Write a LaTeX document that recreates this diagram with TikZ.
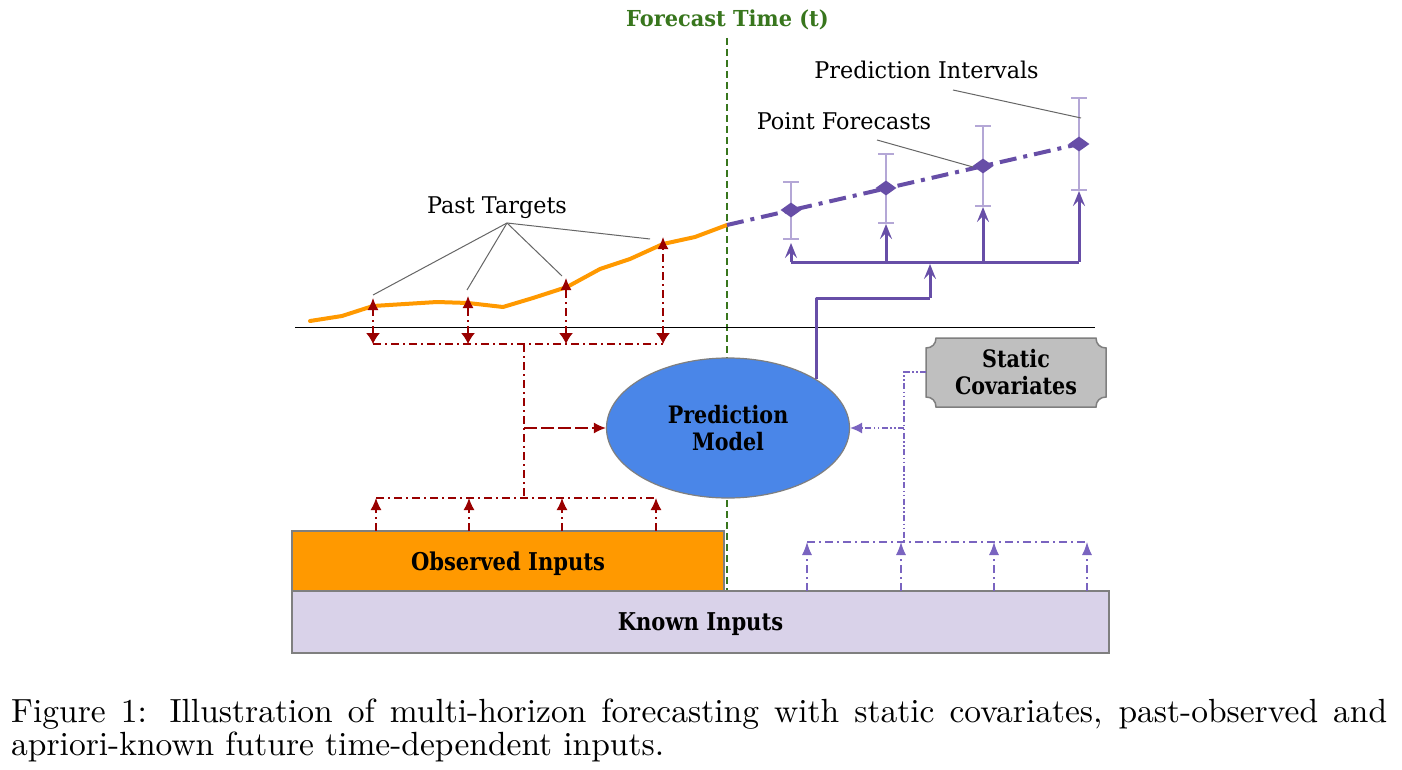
\documentclass[tikz,border=0pt]{standalone}
\usepackage{fontspec}
\usetikzlibrary{shapes.geometric,arrows.meta,calc}
\newfontfamily\labfont{DejaVu Serif}[FakeStretch=0.97]
\newfontfamily\boldfont{DejaVu Serif}[FakeStretch=0.86]
\newfontfamily\titlefont{DejaVu Serif}[FakeStretch=0.95]
\newfontfamily\capfont{lmroman10-regular}[Extension=.otf]
\definecolor{dred}{HTML}{990000}
\definecolor{porange}{HTML}{FF9900}
\definecolor{ppurple}{HTML}{674EA7}
\definecolor{lpurple}{HTML}{B4A7D6}
\definecolor{mpurple}{HTML}{7A64C0}
\definecolor{kfill}{HTML}{D9D2E9}
\definecolor{pblue}{HTML}{4A86E8}
\definecolor{sgray}{HTML}{BFBFBF}
\definecolor{bgray}{HTML}{7F7F7F}
\definecolor{fgreen}{HTML}{38761D}
\definecolor{lgray}{HTML}{666666}
\begin{document}
\begin{tikzpicture}[x=1pt,y=-1pt,
  redl/.style={draw=dred, line width=1.4pt, dash pattern=on 8pt off 4pt on 2pt off 4pt},
  redarr/.style={redl, -{Latex[length=12pt,width=11pt]}},
  redboth/.style={redl, {Latex[length=11pt,width=14pt]}-{Latex[length=12pt,width=11pt]}},
  purl/.style={draw=mpurple, line width=1.3pt, dash pattern=on 8pt off 4pt on 2pt off 4pt},
  purarr/.style={purl, -{Latex[length=13pt,width=10pt]}},
  statl/.style={draw=mpurple, line width=1.3pt, dash pattern=on 6pt off 2.5pt on 1.5pt off 2.5pt on 1.5pt off 2.5pt},
  solidp/.style={draw=ppurple, line width=3pt},
  solidarr/.style={solidp, -{Stealth[length=15pt,width=12pt,inset=6pt]}},
  leader/.style={draw=lgray, line width=1pt},
  interval/.style={draw=lpurple, line width=1.3pt},
  diam/.style={diamond, fill=ppurple, inner sep=0pt, minimum width=21pt, minimum height=15pt},
  lab/.style={font=\labfont\fontsize{23}{27}\selectfont, inner sep=0pt},
  blab/.style={font=\boldfont\bfseries\fontsize{24}{27}\selectfont, inner sep=0pt, align=center},
  inbox/.style={rectangle, draw=bgray, line width=1.5pt, inner sep=0pt, outer sep=0pt, text depth=0pt,
     font=\boldfont\bfseries\fontsize{24.5}{27}\selectfont}
]
\useasboundingbox[fill=white] (0,0) rectangle (1402,770);

% title and forecast time line
\node[font=\titlefont\bfseries\fontsize{22}{25}\selectfont, text=fgreen, anchor=base, inner sep=0pt] (ft) at (727.5,27) {Forecast Time (t)};
\coordinate (gtop) at (727,38);
\coordinate (gbot) at (727,591);
\draw[draw=fgreen, line width=1.2pt, dash pattern=on 7pt off 4pt] (gtop) -- (gbot);

% baseline
\coordinate (bl1) at (295,327);
\coordinate (bl2) at (1095,327);
\draw[black, line width=0.8pt] (bl1) -- (bl2);

% boxes
\node[inbox, fill=kfill, minimum width=817pt, minimum height=62pt] (known) at (700.5,622) {Known Inputs};
\node[inbox, fill=porange, minimum width=432pt, minimum height=60pt] (obs) at (508,561) {Observed Inputs};

% orange past series
\draw[porange, line width=4pt, line join=round, line cap=round]
  (310,321) -- (342,316) -- (373,306) -- (405,304) -- (437,302) -- (468,303) -- (503,307)
  -- (533,298) -- (567,287) -- (600,269) -- (630,259) -- (663,244) -- (695,237) -- (727,225) coordinate (now);

% past target points
\coordinate (p1) at (373,298);
\coordinate (p2) at (468,296);
\coordinate (p3) at (566,278);
\coordinate (p4) at (663,237);
\coordinate (r1) at (373,344);
\coordinate (r2) at (468,344);
\coordinate (r3) at (566,344);
\coordinate (r4) at (663,344);
\foreach \i in {1,2,3,4} \draw[redboth] (r\i) -- (p\i);
\draw[redl] (r1) -- (r4);

% ellipse
\node[ellipse, draw=bgray, line width=1.2pt, fill=pblue, minimum width=243pt, minimum height=140pt,
  inner sep=0pt, blab] (ell) at (728,428) {Prediction\\Model};

% red trunk
\coordinate (rt) at (524,344);
\coordinate (rm) at (524,428);
\coordinate (rb) at (524,498);
\draw[redl] (rt) -- (rb);
\draw[draw=dred, line width=1.6pt, dash pattern=on 13pt off 4pt, -{Latex[length=12pt,width=11pt]}] (rm) -- (ell.west);

% observed input arrows
\coordinate (o1) at (376,498);
\coordinate (o2) at (469,498);
\coordinate (o3) at (562,498);
\coordinate (o4) at (656,498);
\draw[redl] (o1) -- (o4);
\foreach \i in {1,2,3,4} \draw[redarr] (obs.north -| o\i) -- (o\i);

% static covariates
\draw[draw=bgray, line width=1.5pt, fill=sgray]
  (936,338) -- (1096,338)
  .. controls (1096,344) and (1100,348) .. (1106,348)
  -- (1106,397)
  .. controls (1100,397) and (1096,401) .. (1096,407)
  -- (936,407)
  .. controls (936,401) and (932,397) .. (926,397)
  -- (926,348)
  .. controls (932,348) and (936,344) .. (936,338) -- cycle;
\node[blab] (sc) at (1016,372) {Static\\Covariates};
\coordinate (scw) at (926,372);
\coordinate (sv1) at (904,372);
\coordinate (sv2) at (904,428);
\coordinate (sv3) at (904,542);
\draw[statl] (scw) -- (sv1) -- (sv3);
\draw[statl, -{Latex[length=12pt,width=11pt]}] (sv2) -- (ell.east);

% known input arrows
\coordinate (k1) at (807,542);
\coordinate (k2) at (901,542);
\coordinate (k3) at (994,542);
\coordinate (k4) at (1087,542);
\draw[purl] (k1) -- (k4);
\foreach \i in {1,2,3,4} \draw[purarr] (known.north -| k\i) -- (k\i);

% model output
\coordinate (out1) at (930,298);
\coordinate (out2) at (930,264);
\draw[solidp, line join=round] (ell.29.7) |- (out1);
\draw[solidarr] (out1) -- (out2);
\coordinate (h1) at (791,262);
\coordinate (h4) at (1079,262);
\draw[solidp, line join=round] (h1) -- (h4);

% intervals and forecasts
\foreach \x/\t/\b/\m/\a [count=\i] in {791/182/239/210/243, 886/154/223/188/224, 983/126/206/166/207, 1079/98/190/144/191}{
  \draw[interval] (\x,\t) -- (\x,\b);
  \draw[interval] (\x-8,\t) -- (\x+8,\t);
  \draw[interval] (\x-8,\b) -- (\x+8,\b);
  \coordinate (f\i) at (\x,\m);
  \draw[solidarr] (\x,262) -- (\x,\a);
}
\draw[ppurple, line width=4pt, dash pattern=on 17pt off 7pt on 4pt off 7pt] (now) -- (f4);
\foreach \i in {1,2,3,4} \node[diam] (d\i) at (f\i) {};

% labels and leaders
\node[lab, anchor=base] (pt) at (497,213) {Past Targets};
\coordinate (ptl) at (507,223);
\coordinate (pl1) at (373,295);
\coordinate (pl2) at (467,290);
\coordinate (pl3) at (562,276);
\coordinate (pl4) at (650,239);
\foreach \i in {1,2,3,4} \draw[leader] (ptl) -- (pl\i);

\node[lab, anchor=base] (pf) at (844,130) {Point Forecasts};
\coordinate (pfa) at (877,140);
\coordinate (pfb) at (973,167);
\draw[leader] (pfa) -- (pfb);

\node[lab, anchor=base] (pi) at (926.5,79) {Prediction Intervals};
\coordinate (pia) at (953,90);
\coordinate (pib) at (1081,118);
\draw[leader] (pia) -- (pib);

% caption
\node[anchor=base west, inner sep=0pt, font=\capfont\fontsize{33.5}{35}\selectfont] (cap1) at (11,722)
  {\hbox to 1376pt{Figure 1: Illustration of multi-horizon forecasting with static covariates, past-observed and}};
\node[anchor=base west, inner sep=0pt, font=\capfont\fontsize{33.5}{35}\selectfont] (cap2) at (11,755)
  {apriori-known future time-dependent inputs.};
\end{tikzpicture}
\end{document}
